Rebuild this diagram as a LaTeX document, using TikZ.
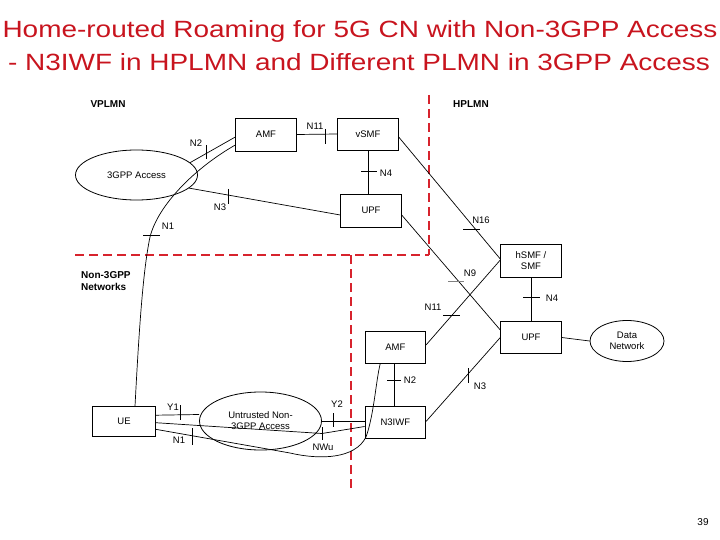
\documentclass[tikz,border=0pt]{standalone}
\usepackage{fontspec}
\setmainfont{Liberation Sans}
\usetikzlibrary{shapes.geometric}
\definecolor{tred}{RGB}{200,20,30}
\definecolor{dred}{RGB}{215,35,45}
\begin{document}
\begin{tikzpicture}[x=1pt,y=-1pt,
  box/.style={draw, line width=0.8pt, minimum width=60.6pt, minimum height=32pt, inner sep=0pt, font=\fontsize{9.5}{11}\selectfont, align=center},
  oval/.style={draw, ellipse, line width=0.8pt, inner sep=0pt, font=\fontsize{9.5}{11}\selectfont, align=center},
  link/.style={line width=0.7pt},
  lbl/.style={font=\fontsize{9.5}{10}\selectfont, inner sep=0pt},
  zone/.style={font=\bfseries\fontsize{10}{12.5}\selectfont, inner sep=0pt, align=left},
  ttl/.style={font=\fontsize{23.5}{28}\selectfont, text=tred, inner sep=0pt, anchor=base},
  border/.style={dred, line width=2.8pt, dash pattern=on 9pt off 5pt}]
\useasboundingbox (0,0) rectangle (720,540);

% title
\node[ttl] (t1) at (360,37.5) {\scalebox{1.19}[1]{Home-routed Roaming for 5G CN with Non-3GPP Access}};
\node[ttl] (t2) at (359,70.5) {\scalebox{1.19}[1]{- N3IWF in HPLMN and Different PLMN in 3GPP Access}};
\node[font=\fontsize{10}{11}\selectfont, inner sep=0pt] (pg) at (703,522) {39};

% zone borders
\draw[border] (429,95) -- (429,255);
\draw[border] (75,255) -- (429,255);
\draw[border] (351,255) -- (351,490);

% zone labels
\node[zone] (vp) at (108,104) {VPLMN};
\node[zone] (hp) at (471,104) {HPLMN};
\node[zone, anchor=west] (nn) at (81,281) {Non-3GPP\\Networks};

% nodes
\node[box, minimum height=33pt] (amfV) at (266,134.5) {AMF};
\node[box] (vsmf) at (368,134) {vSMF};
\node[box, minimum height=33pt] (upfV) at (371,210.5) {UPF};
\node[oval, minimum width=122pt, minimum height=50pt] (acc3) at (136.5,175) {3GPP Access};
\node[box, minimum height=33pt] (hsmf) at (531,261) {hSMF /\\SMF};
\node[box] (upfH) at (531,337.5) {UPF};
\node[oval, minimum width=74pt, minimum height=41pt] (dn) at (627,341) {Data\\Network};
\node[box] (amfH) at (395.3,347) {AMF};
\node[box] (n3iwf) at (395.3,422.5) {N3IWF};
\node[box, minimum width=62.6pt, minimum height=30pt] (ue) at (124,421.7) {UE};
\node[oval, minimum width=122pt, minimum height=58pt] (unt) at (260.5,421) {Untrusted Non-\\3GPP Access};

% VPLMN connectors
\draw[link] (amfV.east) -- (vsmf.west);
\draw[link] (325,129) -- (325,144);
\node[lbl] (l11a) at (315,126) {N11};

\draw[link] (vsmf.south) -- (upfV.north -| vsmf.south);
\draw[link] (361,171.7) -- (377,171.7);
\node[lbl] (l4a) at (386,173) {N4};

\draw[link] (acc3.13) -- ([yshift=-2.5pt]amfV.west);
\draw[link] (206,145) -- (206,159);
\node[lbl] (l2a) at (196,143) {N2};

\coordinate (c1) at (150,237);
\draw[link] ([xshift=11pt]ue.north) .. controls (139,330) and (143,270) .. (c1)
  .. controls (158,205) and (195,168) .. ([yshift=-10.5pt]amfV.west);
\draw[link] (143,235) -- (160,235);
\node[lbl] (l1a) at (168,226) {N1};

\draw[link] (acc3.-14) -- ([yshift=-4.5pt]upfV.west);
\draw[link] (228,189) -- (228,204);
\node[lbl] (l3a) at (220,207) {N3};

% roaming connectors
\draw[link] ([yshift=-3pt]vsmf.east) -- ([yshift=2pt]hsmf.west);
\draw[link] (463,229) -- (480,229);
\node[lbl] (l16) at (481,220) {N16};

\draw[link] ([yshift=-4.5pt]upfV.east) -- ([yshift=7.5pt]upfH.west);
\draw[gray, line width=0.7pt] (448,281.7) -- (464,281.7);
\node[lbl] (l9) at (470,273) {N9};

\draw[link] ([yshift=2pt]amfH.east) -- ([yshift=1pt]hsmf.west);
\draw[link] (443,315) -- (460,315);
\node[lbl] (l11b) at (433,307) {N11};

\draw[link] (hsmf.south) -- (upfH.north);
\draw[link] (523,297.7) -- (540,297.7);
\node[lbl] (l4b) at (552,298) {N4};

\draw[link] (upfH.east) -- (dn.west);

\draw[link] ([yshift=1pt]n3iwf.east) -- (upfH.west);
\draw[link] (468.3,368) -- (468.3,383);
\node[lbl] (l3b) at (480,386) {N3};

\draw[link] (amfH.south -| 394.3,0) -- (n3iwf.north -| 394.3,0);
\draw[link] (387,380.7) -- (401,380.7);
\node[lbl] (l2b) at (410,380.5) {N2};

% non-3GPP connectors
\draw[link] ([yshift=6.5pt]ue.east) -- ([yshift=6.5pt]unt.west);
\draw[link] (180.7,405) -- (180.7,420);
\node[lbl] (ly1) at (173,407) {Y1};

\draw[link] (unt.east) -- (unt.east -| n3iwf.west);
\draw[link] (333,413) -- (333,427);
\node[lbl] (ly2) at (337,404.5) {Y2};

\coordinate (c2) at (322,433.5);
\draw[link] ([yshift=-1pt]ue.east) -- (c2) -- ([yshift=-4pt]n3iwf.west);
\draw[link] (322,427) -- (322,440);
\node[lbl] (lnw) at (323,447.5) {NWu};

\coordinate (c3) at (290,453);
\coordinate (c4) at (366,437);
\draw[link] ([yshift=-7.6pt]ue.east) -- (c3) .. controls (320,460) and (355,459) .. (c4)
  .. controls (374,415) and (376,380) .. ([xshift=-15pt]amfH.south);
\draw[link] (192.3,428) -- (192.3,445);
\node[lbl] (l1b) at (179,440.5) {N1};
\end{tikzpicture}
\end{document}
